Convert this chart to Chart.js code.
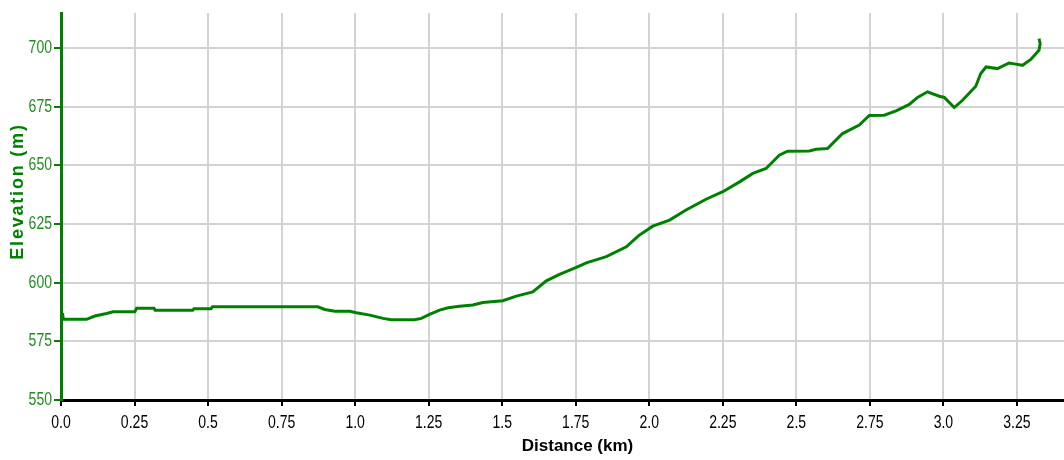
<!DOCTYPE html>
<html>
<head>
<meta charset="utf-8">
<script src="https://cdn.jsdelivr.net/npm/chart.js@4.4.1/dist/chart.umd.min.js"></script>
<style>
  html, body { margin: 0; padding: 0; background: #ffffff; }
  #wrap { width: 1064px; height: 460px; }
</style>
</head>
<body>
<div id="wrap"><canvas id="c" width="1064" height="460"></canvas></div>
<script>
// ---- data ----
const distanceKm = [
  0.005, 0.008, 0.087, 0.115, 0.155, 0.177, 0.251, 0.257, 0.316, 0.320,
  0.448, 0.452, 0.510, 0.515, 0.873, 0.897, 0.931, 0.982, 1.004, 1.050,
  1.095, 1.123, 1.202, 1.225, 1.253, 1.287, 1.316, 1.355, 1.400, 1.434,
  1.502, 1.548, 1.604, 1.650, 1.695, 1.752, 1.786, 1.854, 1.922, 1.964,
  2.012, 2.069, 2.125, 2.193, 2.250, 2.307, 2.352, 2.397, 2.442, 2.470,
  2.544, 2.567, 2.606, 2.657, 2.714, 2.748, 2.799, 2.839, 2.884, 2.912,
  2.946, 2.986, 3.003, 3.037, 3.065, 3.110, 3.127, 3.145, 3.184, 3.223,
  3.246, 3.269, 3.297, 3.325, 3.329, 3.325
];
const elevationM = [
  587.1, 584.4, 584.4, 585.8, 586.9, 587.6, 587.6, 589.1, 589.1, 588.3,
  588.3, 588.9, 588.9, 589.75, 589.75, 588.6, 587.8, 587.8, 587.2, 586.2,
  584.8, 584.2, 584.2, 584.8, 586.5, 588.3, 589.3, 590.0, 590.5, 591.6,
  592.3, 594.3, 596.1, 600.8, 603.6, 606.5, 608.5, 611.1, 615.3, 620.1,
  624.1, 626.7, 631.0, 635.6, 638.8, 643.0, 646.6, 648.7, 654.4, 656.1,
  656.2, 656.9, 657.2, 663.6, 667.2, 671.3, 671.4, 673.3, 676.0, 679.0,
  681.4, 679.5, 679.0, 674.7, 677.8, 683.8, 689.2, 692.0, 691.3, 693.7,
  693.2, 692.7, 695.2, 699.1, 702.0, 704.1
];
const xTickValues = [0, 0.25, 0.5, 0.75, 1.0, 1.25, 1.5, 1.75, 2.0, 2.25, 2.5, 2.75, 3.0, 3.25];
const xTickLabels = ['0.0', '0.25', '0.5', '0.75', '1.0', '1.25', '1.5', '1.75', '2.0', '2.25', '2.5', '2.75', '3.0', '3.25'];
const yTickValues = [550, 575, 600, 625, 650, 675, 700];
const yTickLabels = ['550', '575', '600', '625', '650', '675', '700'];
const xTitle = 'Distance (km)';
const yTitle = 'Elevation (m)';

const points = distanceKm.map((d, i) => ({ x: d, y: elevationM[i] }));

// ---- rendering tweaks: narrow tick labels, spaced/nudged axis titles ----
const proto = Chart.LinearScale.prototype;
const origDrawTitle = proto.drawTitle;
proto.drawTitle = function () {
  const ctx = this.ctx;
  ctx.save();
  if (this.id === 'y') {
    ctx.letterSpacing = '1.8px';
    ctx.translate(0, -15);
  } else {
    ctx.translate(15, 0);
  }
  origDrawTitle.call(this);
  ctx.restore();
};
const origDrawLabels = proto.drawLabels;
proto.drawLabels = function (area) {
  const ctx = this.ctx;
  const baseFill = CanvasRenderingContext2D.prototype.fillText;
  ctx.fillText = function (t, x, y, mw) {
    this.save();
    this.translate(x, y);
    this.scale(0.78, 1);
    if (mw === undefined) baseFill.call(this, t, 0, 0);
    else baseFill.call(this, t, 0, 0, mw / 0.78);
    this.restore();
  };
  try { origDrawLabels.call(this, area); } finally { delete ctx.fillText; }
};

const tickFont = { family: "'Liberation Sans', Arial, sans-serif", size: 18, lineHeight: 1.2 };
const titleFamily = "'Liberation Sans', Arial, sans-serif";

new Chart(document.getElementById('c'), {
  type: 'scatter',
  data: {
    datasets: [{
      data: points,
      showLine: true,
      borderColor: 'rgb(0,128,0)',
      borderWidth: 3,
      pointRadius: 0,
      pointHoverRadius: 0,
      tension: 0,
      fill: false
    }]
  },
  options: {
    responsive: false,
    devicePixelRatio: 1,
    animation: false,
    events: [],
    layout: { padding: { top: 13, right: 0, bottom: 0, left: 0 } },
    plugins: { legend: { display: false }, tooltip: { enabled: false } },
    scales: {
      x: {
        type: 'linear',
        min: 0,
        max: 3.41,
        afterFit: (s) => { s.height = 60; },
        afterBuildTicks: (s) => { s.ticks = xTickValues.map(v => ({ value: v })); },
        ticks: {
          includeBounds: false,
          autoSkip: false,
          maxRotation: 0,
          padding: 6,
          color: '#000000',
          font: tickFont,
          callback: (v) => {
            const i = xTickValues.findIndex(t => Math.abs(t - v) < 1e-6);
            return i >= 0 ? xTickLabels[i] : '';
          }
        },
        grid: {
          color: '#d3d3d3',
          lineWidth: 2,
          tickColor: '#000000',
          tickLength: 6,
          tickWidth: 2
        },
        border: { display: true, color: '#000000', width: 3 },
        title: {
          display: true,
          text: xTitle,
          color: '#000000',
          font: { family: titleFamily, size: 17, weight: 'bold', lineHeight: 1.2 },
          padding: { top: 0, bottom: 3 }
        }
      },
      y: {
        type: 'linear',
        min: 550,
        max: 715,
        afterFit: (s) => { s.width = 61; },
        afterBuildTicks: (s) => { s.ticks = yTickValues.map(v => ({ value: v })); },
        ticks: {
          includeBounds: false,
          autoSkip: false,
          padding: 2,
          color: '#1f8f1f',
          font: tickFont,
          callback: (v) => {
            const i = yTickValues.indexOf(v);
            return i >= 0 ? yTickLabels[i] : '';
          }
        },
        grid: {
          color: '#d3d3d3',
          lineWidth: 2,
          tickColor: '#0a7a0a',
          tickLength: 7,
          tickWidth: 2
        },
        border: { display: true, color: 'rgb(0,128,0)', width: 3 },
        title: {
          display: true,
          text: yTitle,
          color: 'rgb(0,128,0)',
          font: { family: titleFamily, size: 18, weight: 'bold', lineHeight: 1.2 },
          padding: { top: 7.5, bottom: 0 }
        }
      }
    }
  }
});
</script>
</body>
</html>
